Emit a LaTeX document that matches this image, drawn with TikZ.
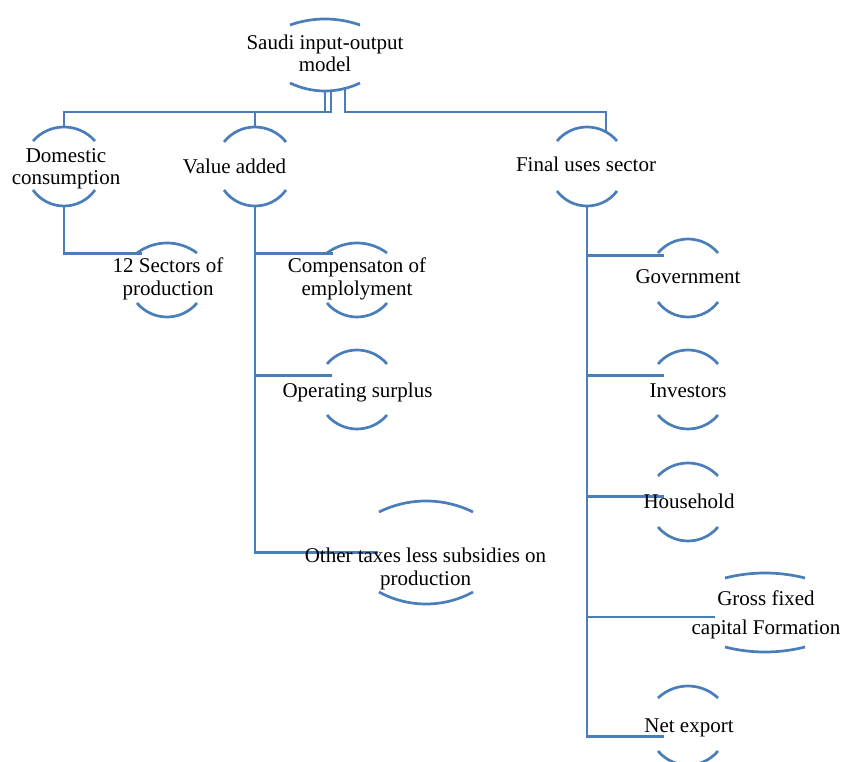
\documentclass[tikz,border=0pt]{standalone}
\usepackage{fontspec}
\setmainfont{Liberation Serif}
\usetikzlibrary{calc}
\definecolor{lnblue}{HTML}{4A7EBB}
\tikzset{
  conn/.style={draw=lnblue, line width=2.7pt},
  arcline/.style={draw=lnblue, line width=2.7pt},
  lbl/.style={anchor=base, inner sep=0pt, font=\fontsize{21}{22}\selectfont},
}
% compute bezier control offsets for a circular arc of half chord #1 and sagitta #2
\newcommand\arcctl[2]{%
  \pgfmathsetmacro\arcW{#1}%
  \pgfmathsetmacro\arcS{#2}%
  \pgfmathsetmacro\arcR{(\arcW*\arcW+\arcS*\arcS)/(2*\arcS)}%
  \pgfmathsetmacro\arcA{asin(\arcW/\arcR)}%
  \pgfmathsetmacro\arcK{4/3*tan(\arcA/2)*\arcR}%
  \pgfmathsetmacro\arcCx{\arcK*cos(\arcA)}%
  \pgfmathsetmacro\arcCy{\arcK*sin(\arcA)}%
}
% name, cx, half chord, top peak, top end, bottom end, bottom peak
\newcommand\arcbox[7]{%
  \node[inner sep=0pt, minimum width={2*#3}, minimum height={#7-#4}] (#1) at (#2,{(#4+#7)/2}) {};
  \arcctl{#3}{#5-#4}%
  \draw[arcline] (#2-#3,#5) .. controls (#2-#3+\arcCx,#5-\arcCy) and (#2+#3-\arcCx,#5-\arcCy) .. (#2+#3,#5);
  \arcctl{#3}{#7-#6}%
  \draw[arcline] (#2-#3,#6) .. controls (#2-#3+\arcCx,#6+\arcCy) and (#2+#3-\arcCx,#6+\arcCy) .. (#2+#3,#6);
}
\newcommand\twolines[2]{\begin{tabular}[t]{@{}c@{}}#1\\#2\end{tabular}}
\begin{document}
\begin{tikzpicture}[x=1pt,y=-1pt]
\useasboundingbox (0,0) rectangle (844,762);
% shapes
\arcbox{top}{325}{35}{19}{25}{83}{91}
\arcbox{dom}{64}{31}{127}{141}{190}{206}
\arcbox{val}{255}{31}{127}{142}{190}{206}
\arcbox{fin}{587}{30}{127}{141}{191}{206}
\arcbox{sec}{167}{30}{243}{253}{303}{317}
\arcbox{comp}{357}{30}{243}{253}{303}{317}
\arcbox{oper}{357}{30}{350}{364}{415}{429}
\arcbox{other}{426}{47}{501}{512}{592}{604}
\arcbox{gov}{688}{30}{239}{253}{302}{317}
\arcbox{inv}{688}{30}{350}{364}{415}{429}
\arcbox{hh}{688}{30}{463}{476}{527}{541}
\arcbox{gross}{765}{40}{573}{578}{647}{652}
\arcbox{net}{688}{30}{686}{698}{751}{765}
% bus level
\coordinate (bus) at (0,112);
% connectors from the top node
\draw[conn] (top.south) -- (top.south |- bus) -| (dom.north);
\draw[conn] ($(top.south)+(6,0)$) -- ($(top.south |- bus)+(6,0)$) -| (val.north);
\draw[conn] ($(top.south)+(20,-2)$) -- ($(top.south |- bus)+(20,0)$) -| ($(fin.north)+(19,5)$);
% domestic
\draw[conn] (dom.south) |- ($(sec.north west)+(5,11)$);
% value added
\draw[conn] (val.south) |- ($(comp.north west)+(6,11)$);
\draw[conn] (val.south) |- ($(oper.north west)+(5,26)$);
\draw[conn] (val.south) |- ($(other.west)+(-1,0)$);
% final uses
\draw[conn] (fin.south) |- ($(gov.north west)+(6,17)$);
\draw[conn] (fin.south) |- ($(inv.north west)+(6,26)$);
\draw[conn] (fin.south) |- ($(hh.north west)+(6,34)$);
\draw[conn] (fin.south) |- ($(gross.west)+(-10,4.5)$);
\draw[conn] (fin.south) |- ($(net.north west)+(6,51)$);
% texts
\node[lbl] (top-t) at (325,50) {\twolines{Saudi input-output}{model}};
\node[lbl] (dom-t) at (66,162.5) {\twolines{Domestic}{consumption}};
\node[lbl] (val-t) at (234.5,174) {Value added};
\node[lbl] (fin-t) at (586,172) {Final uses sector};
\node[lbl] (sec-t) at (168,273) {\twolines{12 Sectors of}{production}};
\node[lbl] (comp-t) at (357,273) {\twolines{Compensaton of}{emplolyment}};
\node[lbl] (oper-t) at (357.5,397) {Operating surplus};
\node[lbl] (other-t) at (425.5,562) {\begin{tabular}[t]{@{}c@{}}Other taxes less subsidies on\\[1pt]production\end{tabular}};
\node[lbl] (gov-t) at (688,284) {Government};
\node[lbl] (inv-t) at (688,397) {Investors};
\node[lbl] (hh-t) at (689,508) {Household};
\node[lbl] (gross-t) at (766,605) {\begin{tabular}[t]{@{}c@{}}Gross fixed\\[7pt]capital Formation\end{tabular}};
\node[lbl] (net-t) at (689,732) {Net export};
\end{tikzpicture}
\end{document}
